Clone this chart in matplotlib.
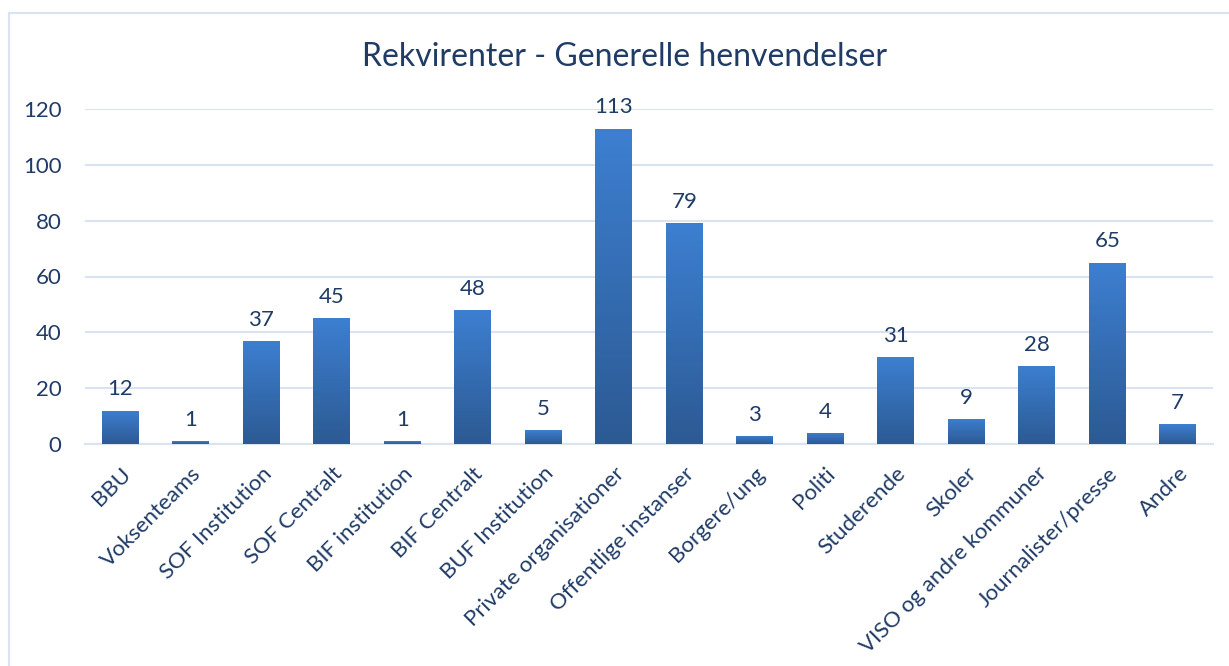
import matplotlib

matplotlib.use("Agg")
import matplotlib.pyplot as plt  # noqa: E402
import numpy as np  # noqa: E402
from matplotlib.lines import Line2D  # noqa: E402

CATEGORIES = [
    "BBU", "Voksenteams", "SOF Institution", "SOF Centralt", "BIF institution",
    "BIF Centralt", "BUF Institution", "Private organisationer", "Offentlige instanser",
    "Borgere/ung", "Politi", "Studerende", "Skoler", "VISO og andre kommuner",
    "Journalister/presse", "Andre",
]
VALUES = [12, 1, 37, 45, 1, 48, 5, 113, 79, 3, 4, 31, 9, 28, 65, 7]
TITLE = "Rekvirenter - Generelle henvendelser"

TEXT = "#1f3b66"
GRID = "#d9e3f2"
TOP = "#3d7fd1"
BOTTOM = "#2c5a93"

plt.rcParams["font.family"] = ["Lato", "DejaVu Sans"]

W, H = 1229, 666
fig = plt.figure(figsize=(W / 100, H / 100), dpi=100)
ax = fig.add_axes([85 / W, 1 - 444 / H, (1213 - 85) / W, (444 - 109) / H])

x = np.arange(len(CATEGORIES))
bars = ax.bar(x, VALUES, width=0.52, color=TOP, zorder=2)

# vertical gradient inside each bar (Excel-style fill)
grad = np.linspace(0, 1, 256).reshape(-1, 1)
cmap = matplotlib.colors.LinearSegmentedColormap.from_list("g", [BOTTOM, TOP])
for b in bars:
    x0, y0, w, h = b.get_x(), b.get_y(), b.get_width(), b.get_height()
    im = ax.imshow(grad, cmap=cmap, aspect="auto", origin="lower",
                   extent=(x0, x0 + w, y0, y0 + h), zorder=3)
    im.set_clip_path(b)
    ax.annotate(f"{h:g}", (x0 + w / 2, h), xytext=(0, 8), textcoords="offset points",
                ha="center", va="bottom", fontsize=16, color=TEXT)

ax.set_xlim(-0.5, len(CATEGORIES) - 0.5)
ax.set_ylim(0, 120)
ax.set_yticks(range(0, 121, 20))
ax.grid(axis="y", color=GRID, linewidth=1.5, zorder=0)
ax.set_axisbelow(True)
for s in ("top", "right", "left"):
    ax.spines[s].set_visible(False)
ax.spines["bottom"].set_color(GRID)
ax.spines["bottom"].set_linewidth(1.5)
ax.tick_params(length=0, colors=TEXT, labelsize=16)
ax.tick_params(axis="y", pad=17)
ax.set_xticks(x)
ax.set_xticklabels(CATEGORIES, rotation=45, ha="right", rotation_mode="anchor")
ax.tick_params(axis="x", pad=14)

fig.text(625 / W, 1 - 57 / H, TITLE, ha="center", va="center", fontsize=23, color=TEXT)

# chart frame: only top and left edges are visible in the crop
fx, fy = 9 / W, 1 - 13 / H
fig.add_artist(Line2D([fx, 1], [fy, fy], transform=fig.transFigure, color=GRID, lw=1.5))
fig.add_artist(Line2D([fx, fx], [0, fy], transform=fig.transFigure, color=GRID, lw=1.5))

fig.savefig("out.png", dpi=100)
